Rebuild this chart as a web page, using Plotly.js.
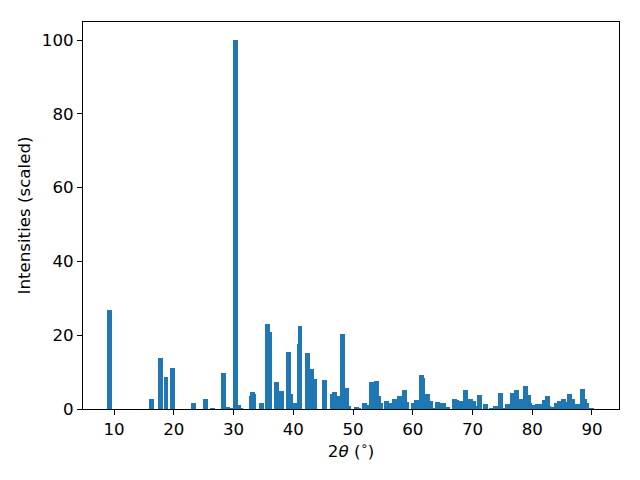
<!DOCTYPE html>
<html>
<head>
<meta charset="utf-8">
<script src="https://cdn.plot.ly/plotly-3.0.1.min.js"></script>
<style>html,body{margin:0;padding:0;background:#fff;}#chart{width:640px;height:480px;}</style>
</head>
<body>
<div id="chart"></div>
<script>
const twoTheta = [9.21,16.28,17.78,18.70,19.76,23.31,25.31,26.49,28.33,29.08,29.6,30.33,30.89,31.25,
33.0,33.18,33.36,34.69,35.69,36.04,37.20,38.05,39.21,39.56,40.21,40.95,41.12,42.38,43.1,43.57,
45.23,46.55,46.9,47.42,48.24,48.93,49.25,50.59,50.94,51.9,52.4,53.10,53.93,54.29,54.62,55.61,56.13,
56.95,57.78,58.62,58.97,60.04,60.64,61.46,61.65,62.47,62.99,63.3,64.14,64.49,65.16,65.83,66.99,67.34,
67.67,68.0,68.83,69.67,70.18,70.35,71.17,72.18,73.1,73.85,74.69,75.0,75.86,76.68,77.36,78.05,78.85,
79.39,79.56,80.06,80.86,81.4,81.73,82.07,82.57,82.74,83.24,84.04,84.24,84.57,85.23,85.41,86.23,86.75,
87.09,87.59,88.41,88.76,89.09,89.92];
const intensity = [26.8,2.7,13.8,8.7,11.1,1.6,2.7,0.3,9.7,0.5,0.3,100,1.1,0.3,
3.5,4.6,4.1,1.6,23.0,20.9,7.3,4.9,15.4,4.1,1.6,17.5,22.4,15.2,10.8,8.1,
7.9,4.1,4.6,3.5,20.3,5.7,0.8,0.5,0.3,1.6,1.1,7.3,7.5,3.5,1.6,2.2,1.6,
2.7,3.5,5.1,1.9,1.6,2.4,9.2,8.4,4.1,2.2,0.3,1.9,1.6,1.6,0.5,2.7,2.4,
1.1,2.2,5.1,2.7,2.2,0.8,3.8,1.4,0.3,0.8,4.3,0.3,1.4,4.3,5.1,2.7,6.2,
3.8,1.6,1.1,1.4,1.4,1.1,2.4,3.5,0.8,0.5,1.6,0.5,2.2,2.7,1.9,4.1,2.7,
0.8,1.4,5.4,2.7,1.6,0.3];
const xTicks = [10,20,30,40,50,60,70,80,90];
const yTicks = [0,20,40,60,80,100];

const font = {family: 'DejaVu Sans, sans-serif', size: 16.67, color: '#000'};
Plotly.newPlot('chart', [{
  type: 'bar', x: twoTheta, y: intensity, width: 0.8,
  marker: {color: '#1f77b4', line: {width: 0}}
}], {
  width: 640, height: 480,
  margin: {l: 83, r: 21, t: 22, b: 71},
  paper_bgcolor: '#fff', plot_bgcolor: '#fff',
  font: font, showlegend: false, bargap: 0,
  xaxis: {range: [4.81, 94.52], tickvals: xTicks, ticktext: xTicks.map(String),
    ticks: 'outside', ticklen: 5, tickwidth: 1, tickcolor: '#000',
    showline: true, linecolor: '#000', linewidth: 1, mirror: true,
    showgrid: false, zeroline: false, tickfont: font,
    title: {text: '2<i>θ</i> (<sup>∘</sup>)', font: font, standoff: 6}},
  yaxis: {range: [0, 104.9], tickvals: yTicks, ticktext: yTicks.map(String),
    ticks: 'outside', ticklen: 5, tickwidth: 1, tickcolor: '#000',
    showline: true, linecolor: '#000', linewidth: 1, mirror: true,
    showgrid: false, zeroline: false, tickfont: font,
    title: {text: 'Intensities (scaled)', font: font, standoff: 7}}
}, {displayModeBar: false, staticPlot: true});
</script>
</body>
</html>
